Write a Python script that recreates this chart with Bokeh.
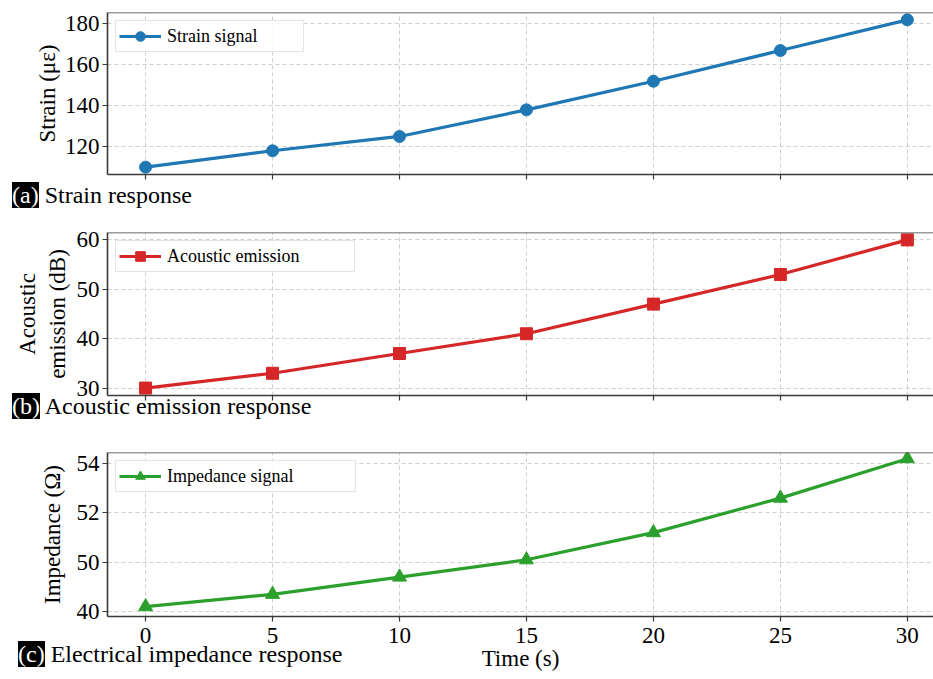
from bokeh.plotting import figure
from bokeh.models import Range1d, FixedTicker, Legend, LegendItem, Span, Div
from bokeh.layouts import column
from bokeh.embed import file_html
from bokeh.resources import INLINE

# ---- data ----
time_s = [0, 5, 10, 15, 20, 25, 30]
strain = [110, 118, 125, 138, 152, 167, 182]
acoustic = [30, 33, 37, 41, 47, 53, 60]
impedance = [48.2, 48.7, 49.4, 50.1, 51.2, 52.6, 54.2]

x_ticks = [0, 5, 10, 15, 20, 25, 30]
strain_ticks = [120, 140, 160, 180]
acoustic_ticks = [30, 40, 50, 60]
impedance_ticks = [48, 50, 52, 54]
impedance_tick_labels = {48: "40", 50: "50", 52: "52", 54: "54"}

panel_tags = ["(a)", "(b)", "(c)"]
panel_titles = ["Strain response", "Acoustic emission response", "Electrical impedance response"]
series_names = ["Strain signal", "Acoustic emission", "Impedance signal"]
y_labels = ["Strain (\u03bc\u03b5)", "Acoustic\nemission (dB)", "Impedance (\u03a9)"]

FONT = "Liberation Serif"
FRAME = "#3a3a3a"
GRID = "#cfcfcf"
W = 933


def make_panel(y, ticks, ylabel, name, color, marker, msize, yrange, height, top,
               bottom, label_standoff, legend_w, show_x_labels, overrides=None):
    p = figure(width=W, height=height, output_backend="svg", toolbar_location=None,
               x_range=Range1d(-1.5, 31.03), y_range=Range1d(*yrange),
               min_border_left=107, min_border_right=0, min_border_top=top,
               min_border_bottom=bottom)
    p.outline_line_color = None
    p.background_fill_color = "white"
    p.border_fill_color = "white"

    for ax in (p.xaxis[0], p.yaxis[0]):
        ax.axis_line_color = FRAME
        ax.axis_line_width = 1.6
        ax.major_tick_line_color = FRAME
        ax.major_tick_line_width = 1.2
        ax.major_tick_in = 0
        ax.major_tick_out = 5
        ax.minor_tick_line_color = None
        ax.major_label_text_font = FONT
        ax.major_label_text_font_size = "23px"
        ax.major_label_text_color = "black"
        ax.axis_label_text_font = FONT
        ax.axis_label_text_font_style = "normal"
        ax.axis_label_text_font_size = "23px"
        ax.axis_label_text_color = "black"

    p.xaxis.ticker = FixedTicker(ticks=x_ticks)
    p.yaxis.ticker = FixedTicker(ticks=ticks)
    p.yaxis.major_label_standoff = 3
    p.yaxis.axis_label = ylabel
    p.yaxis.axis_label_standoff = label_standoff
    if overrides:
        p.yaxis.major_label_overrides = overrides
    if show_x_labels:
        p.xaxis.axis_label = "Time (s)"
        p.xaxis.major_label_standoff = 6
        p.xaxis.axis_label_standoff = 0
    else:
        p.xaxis.major_label_overrides = {t: "" for t in x_ticks}
        p.xaxis.major_label_standoff = 0

    p.xgrid.ticker = FixedTicker(ticks=x_ticks)
    p.ygrid.ticker = FixedTicker(ticks=ticks)
    for g in (p.xgrid[0], p.ygrid[0]):
        g.grid_line_color = GRID
        g.grid_line_dash = "4 3"
        g.grid_line_width = 1

    p.add_layout(Span(location=yrange[1], dimension="width", line_color=FRAME, line_width=1.6))

    ln = p.line(time_s, y, line_color=color, line_width=3.2)
    sc = p.scatter(time_s, y, marker=marker, size=msize, fill_color=color, line_color=color)

    leg = Legend(items=[LegendItem(label=name, renderers=[ln, sc])], location="top_left")
    leg.label_text_font = FONT
    leg.label_text_font_size = "18px"
    leg.label_text_color = "black"
    leg.glyph_width = 42
    leg.glyph_height = 24
    leg.label_height = 22
    leg.label_standoff = 6
    leg.label_width = legend_w
    leg.padding = 3
    leg.margin = 8
    leg.spacing = 0
    leg.border_line_color = "#cccccc"
    leg.border_line_width = 1
    leg.background_fill_alpha = 0.85
    p.add_layout(leg)
    return p


def tag_div(tag, title, height, left):
    html = ('<div style="font-family:\'Liberation Serif\',serif;font-size:24px;'
            'line-height:27px;color:black;white-space:nowrap;">'
            '<span style="background:black;color:white;">' + tag + '</span> ' + title + '</div>')
    return Div(text=html, width=420, height=height, margin=(-height, 0, 0, left))


p1 = make_panel(strain, strain_ticks, y_labels[0], series_names[0], "#1f77b4", "circle", 12,
                (106.4, 185.6), 228, 12, 54, 2, 133, False)
p2 = make_panel(acoustic, acoustic_ticks, y_labels[1], series_names[1], "#d62728", "square", 12,
                (28.5, 61.5), 220, 4, 53, 4, 184, False)
p3 = make_panel(impedance, impedance_ticks, y_labels[2], series_names[2],
                "#2ca02c", "triangle", 14, (47.8, 54.45), 231, 4, 63, 9, 185, True,
                overrides=impedance_tick_labels)

d1 = tag_div(panel_tags[0], panel_titles[0], 46, 12)
d2 = tag_div(panel_tags[1], panel_titles[1], 55, 12)
d3 = tag_div(panel_tags[2], panel_titles[2], 38, 18)

layout = column(p1, d1, p2, d2, p3, d3, spacing=0)
open("out.html", "w").write(file_html(layout, INLINE))
